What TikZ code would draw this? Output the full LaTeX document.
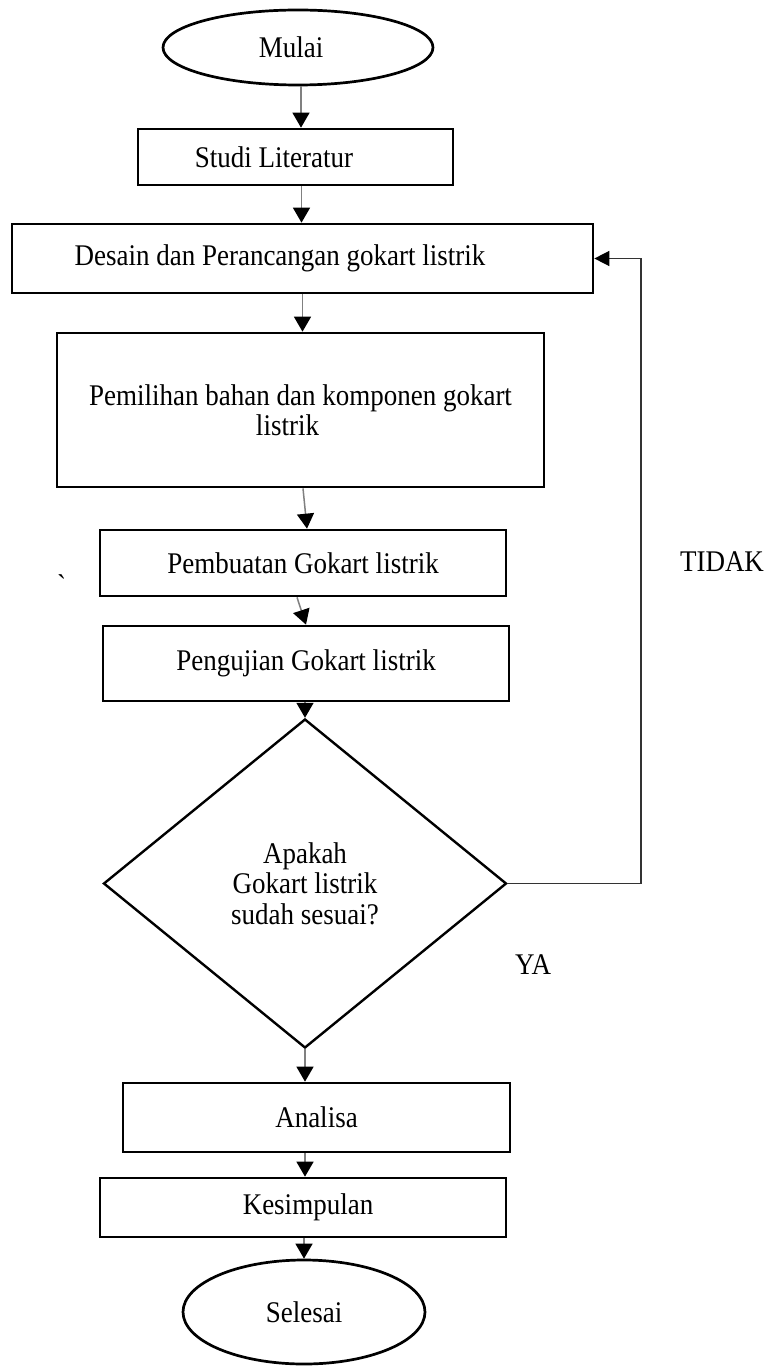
\documentclass[tikz,border=0pt]{standalone}
\usepackage{fontspec}
\setmainfont{Liberation Serif}[FakeStretch=0.9]
\usetikzlibrary{shapes.geometric,arrows.meta,calc}
\begin{document}
\begin{tikzpicture}[x=1bp,y=-1bp,
  font=\fontsize{30bp}{30.5bp}\selectfont,
  box/.style={draw=black,line width=2.7bp,rectangle,inner sep=0pt,align=center},
  term/.style={draw=black,line width=2.7bp,ellipse,inner sep=0pt},
  dec/.style={draw=black,line width=2.4bp,diamond,inner sep=0pt,align=center},
  arr/.style={draw=gray,line width=1.5bp,-{Triangle[width=17bp,length=15bp,color=black]}},
  back/.style={draw=black!80,line width=1.5bp,-{Triangle[width=15bp,length=15bp,color=black]}},
  lbl/.style={inner sep=0pt}]
\useasboundingbox[fill=white] (0,0) rectangle (770,1366);

\node[term,minimum width=270bp,minimum height=75bp] (mulai) at (298,47.5) {Mulai\hspace*{14bp}};
\node[box,minimum width=315bp,minimum height=56bp] (studi) at (295.5,157) {\raisebox{-3bp}{Studi Literatur}\hspace*{43bp}};
\node[box,minimum width=581bp,minimum height=69bp] (desain) at (302.5,258.5) {\raisebox{-4bp}{Desain dan Perancangan gokart listrik}\hspace*{45bp}};
\node[box,minimum width=487bp,minimum height=154bp] (pemilihan) at (300.5,410) {Pemilihan bahan dan komponen gokart\\listrik\hspace*{26bp}};
\node[box,minimum width=406bp,minimum height=66bp] (pembuatan) at (303,563) {Pembuatan Gokart listrik};
\node[box,minimum width=406bp,minimum height=75bp] (pengujian) at (306,663.5) {Pengujian Gokart listrik};
\node[dec,minimum width=403bp,minimum height=329bp] (dia) at (305,883.5) {Apakah\\Gokart listrik\\sudah sesuai?};
\node[box,minimum width=387bp,minimum height=69bp] (analisa) at (316.5,1117.5) {Analisa};
\node[box,minimum width=406bp,minimum height=59bp] (kes) at (303,1207.5) {\hspace*{10bp}Kesimpulan};
\node[term,minimum width=242bp,minimum height=104bp] (selesai) at (304,1312) {\raisebox{-4bp}{Selesai}};

\node[lbl] (tidak) at (722,562) {TIDAK};
\node[lbl] (ya) at (533,965) {YA};
\node[lbl] (tick) at (62,585) {\textasciigrave};

\coordinate (loop) at (641,883.5);

\draw[arr] ([xshift=3bp]mulai.south) -- ([xshift=3bp]mulai.south |- studi.north);
\draw[arr] ([xshift=6bp]studi.south) -- ([xshift=6bp]studi.south |- desain.north);
\draw[arr] (desain.south) -- (desain.south |- pemilihan.north);
\draw[arr] (pembuatan.north |- pemilihan.south) -- ([xshift=4bp]pembuatan.north);
\draw[arr] ([xshift=-6bp]pembuatan.south) -- (pengujian.north);
\draw[arr] (dia.north |- pengujian.south) -- (dia.north);
\draw[arr] (dia.south) -- (dia.south |- analisa.north);
\draw[arr] (analisa.south -| dia.south) -- (kes.north -| dia.south);
\draw[arr] (kes.south -| selesai.north) -- (selesai.north);
\draw[back] (dia.east) -- (loop) |- (desain.east);
\end{tikzpicture}
\end{document}
